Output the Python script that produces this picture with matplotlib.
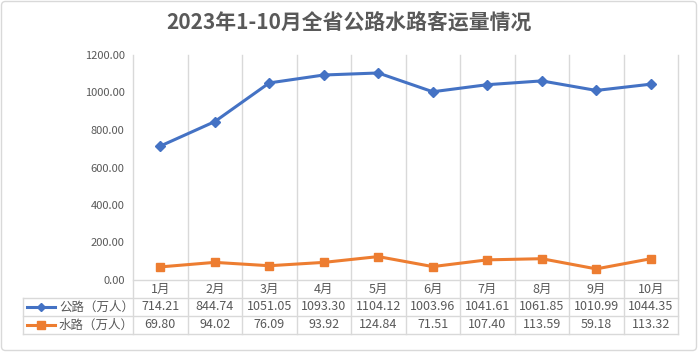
import matplotlib.pyplot as plt
import matplotlib.transforms as mtransforms
from matplotlib.patches import FancyBboxPatch

plt.rcParams['font.family'] = ['Noto Sans CJK SC', 'DejaVu Sans']

months = ['1月', '2月', '3月', '4月', '5月', '6月', '7月', '8月', '9月', '10月']
road = [714.21, 844.74, 1051.05, 1093.30, 1104.12, 1003.96, 1041.61, 1061.85, 1010.99, 1044.35]
water = [69.80, 94.02, 76.09, 93.92, 124.84, 71.51, 107.40, 113.59, 59.18, 113.32]
series_names = ['公路（万人）', '水路（万人）']
title = '2023年1-10月全省公路水路客运量情况'

blue = '#4472C4'
orange = '#ED7D31'
grid = '#D9D9D9'
txt = '#595959'

W, H = 698, 352
fig = plt.figure(figsize=(W / 100, H / 100), dpi=100)

# pixel overlay for borders / table
ov = fig.add_axes([0, 0, 1, 1], zorder=0)
ov.set_xlim(0, W)
ov.set_ylim(H, 0)
ov.axis('off')
ov.add_patch(FancyBboxPatch((1.5, 1.5), W - 3, H - 3, boxstyle='round,pad=0,rounding_size=4',
                            fc='white', ec=grid, lw=1))

x0, x1, ytop, ybot = 133, 678, 55, 280
ax = fig.add_axes([x0 / W, 1 - ybot / H, (x1 - x0) / W, (ybot - ytop) / H], zorder=2)
ax.patch.set_alpha(0)
n = len(months)
xs = list(range(n))
ax.plot(xs, road, color=blue, lw=2.2, marker='D', ms=5.5, zorder=3)
ax.plot(xs, water, color=orange, lw=2.2, marker='s', ms=6, zorder=3)
ax.set_xlim(-0.5, n - 0.5)
ax.set_ylim(0, 1200)
ax.set_yticks(range(0, 1201, 200))
ax.set_yticklabels([f'{v:.2f}' for v in range(0, 1201, 200)], fontsize=8, color=txt)
ax.tick_params(axis='y', length=0, pad=6)
ax.set_xticks([])
for s in ax.spines.values():
    s.set_visible(False)

# table rows (pixel y)
r0, r1, r2, r3 = 280, 298, 316, 334
bt = mtransforms.blended_transform_factory(ax.transData, ov.transData)

# vertical gridlines through plot and table
for k in range(n + 1):
    ov.plot([k - 0.5, k - 0.5], [ytop, r3], color=grid, lw=1, transform=bt, zorder=1)
ov.plot([23, x1], [r1, r1], color=grid, lw=1)
ov.plot([23, x1], [r2, r2], color=grid, lw=1)
ov.plot([23, x1], [r3, r3], color=grid, lw=1)
ov.plot([23, 23], [r1, r3], color=grid, lw=1)
ov.plot([x0, x1], [r0, r0], color=grid, lw=1)

for i, m in enumerate(months):
    ov.text(i, (r0 + r1) / 2, m, transform=bt, ha='center', va='center', fontsize=9, color=txt)
    ov.text(i, (r1 + r2) / 2, f'{road[i]:.2f}', transform=bt, ha='center', va='center',
            fontsize=9, color=txt)
    ov.text(i, (r2 + r3) / 2, f'{water[i]:.2f}', transform=bt, ha='center', va='center',
            fontsize=9, color=txt)

# legend keys inside table
for (ya, yb), c, mk, ms, name in [((r1, r2), blue, 'D', 4.5, series_names[0]),
                                  ((r2, r3), orange, 's', 6, series_names[1])]:
    yc = (ya + yb) / 2
    ov.plot([27, 55], [yc, yc], color=c, lw=2.2)
    ov.plot([41], [yc], color=c, marker=mk, ms=ms)
    ov.text(59, yc, name, ha='left', va='center', fontsize=9, color=txt)

fig.text(0.5, 1 - 23 / H, title, ha='center', va='center', fontsize=15, fontweight='bold',
         color=txt)

fig.savefig('out.png', dpi=100)
